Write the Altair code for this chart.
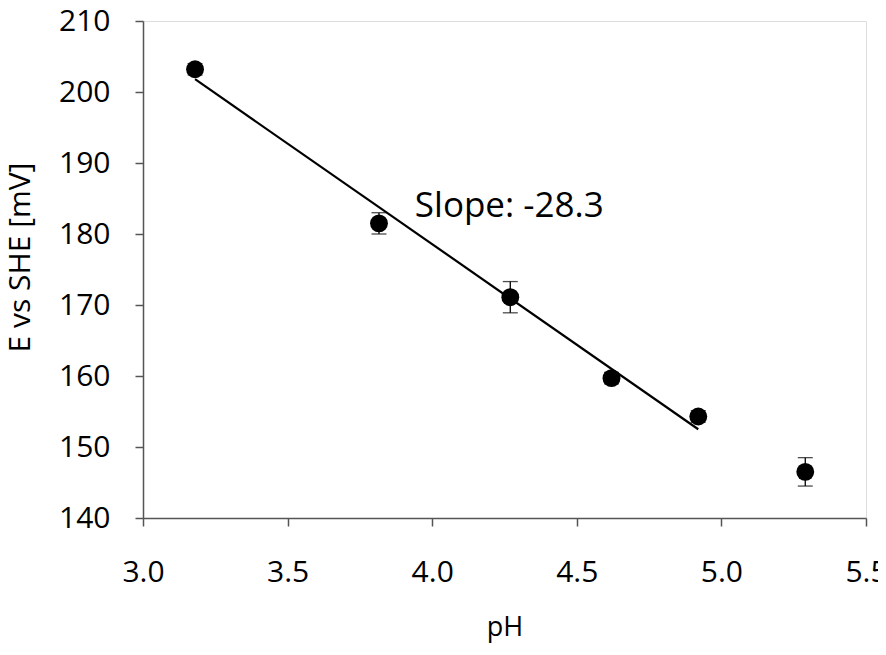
import altair as alt
import pandas as pd

# measured data
ph = [3.18, 3.816, 4.27, 4.62, 4.92, 5.29]
e_mv = [203.2, 181.5, 171.1, 159.7, 154.3, 146.5]
err = [0.8, 1.5, 2.2, 0.8, 0.8, 2.0]

# linear fit line endpoints
fit_ph = [3.18, 4.92]
fit_e = [201.8, 152.5]

x_ticks = [3.0, 3.5, 4.0, 4.5, 5.0, 5.5]
y_ticks = [140, 150, 160, 170, 180, 190, 200, 210]

df = pd.DataFrame({"ph": ph, "e": e_mv, "err": err})
df["lo"] = df["e"] - df["err"]
df["hi"] = df["e"] + df["err"]
fit = pd.DataFrame({"ph": fit_ph, "e": fit_e})
note = pd.DataFrame({"ph": [3.94], "e": [184.0], "t": ["Slope: -28.3"]})

FONT = "Open Sans"
AXC = "#555555"

xs = alt.Scale(domain=[3.0, 5.5], nice=False, zero=False)
ys = alt.Scale(domain=[140, 210], nice=False, zero=False)

xax = alt.Axis(values=x_ticks, format=".1f", title="pH", grid=False,
               domainColor=AXC, tickColor=AXC, domainWidth=1.5, tickWidth=1.5,
               tickSize=8, labelFontSize=30, labelFont=FONT, labelColor="black",
               labelPadding=31, titleFontSize=27, titleFont=FONT,
               titleFontWeight="normal", titleColor="black", titlePadding=27,
               labelFlush=False)
yax = alt.Axis(values=y_ticks, title="E vs SHE [mV]", grid=False,
               domainColor=AXC, tickColor=AXC, domainWidth=1.5, tickWidth=1.5,
               tickSize=8, labelFontSize=30, labelFont=FONT, labelColor="black",
               labelPadding=25, titleFontSize=30, titleFont=FONT,
               titleFontWeight="normal", titleColor="black",
               titleBaseline="alphabetic", titleX=-114, titleY=236,
               labelFlush=False)

line = alt.Chart(fit).mark_line(color="black", strokeWidth=2.2).encode(
    x=alt.X("ph:Q", scale=xs, axis=xax),
    y=alt.Y("e:Q", scale=ys, axis=yax),
)

rules = alt.Chart(df).mark_rule(color="black", strokeWidth=1.3).encode(
    x="ph:Q", y="lo:Q", y2="hi:Q"
)
caps_lo = alt.Chart(df).mark_tick(color="black", orient="horizontal", size=15,
                                  thickness=1.3).encode(x="ph:Q", y="lo:Q")
caps_hi = alt.Chart(df).mark_tick(color="black", orient="horizontal", size=15,
                                  thickness=1.3).encode(x="ph:Q", y="hi:Q")

pts = alt.Chart(df).mark_point(filled=True, shape="circle", size=320,
                               color="black", opacity=1).encode(
    x="ph:Q", y="e:Q"
)

txt = alt.Chart(note).mark_text(align="left", baseline="middle", fontSize=35,
                                font=FONT, color="black").encode(
    x="ph:Q", y="e:Q", text="t:N"
)

chart = alt.layer(line, rules, caps_lo, caps_hi, pts, txt).properties(
    width=723, height=497,
    autosize=alt.AutoSizeParams(type="none"),
    padding={"left": 135, "top": 13, "right": 12, "bottom": 129},
).configure_view(stroke=AXC, strokeWidth=1.5).configure(background="white")

chart.save("out.html", embed_options={"renderer": "svg", "actions": False})
